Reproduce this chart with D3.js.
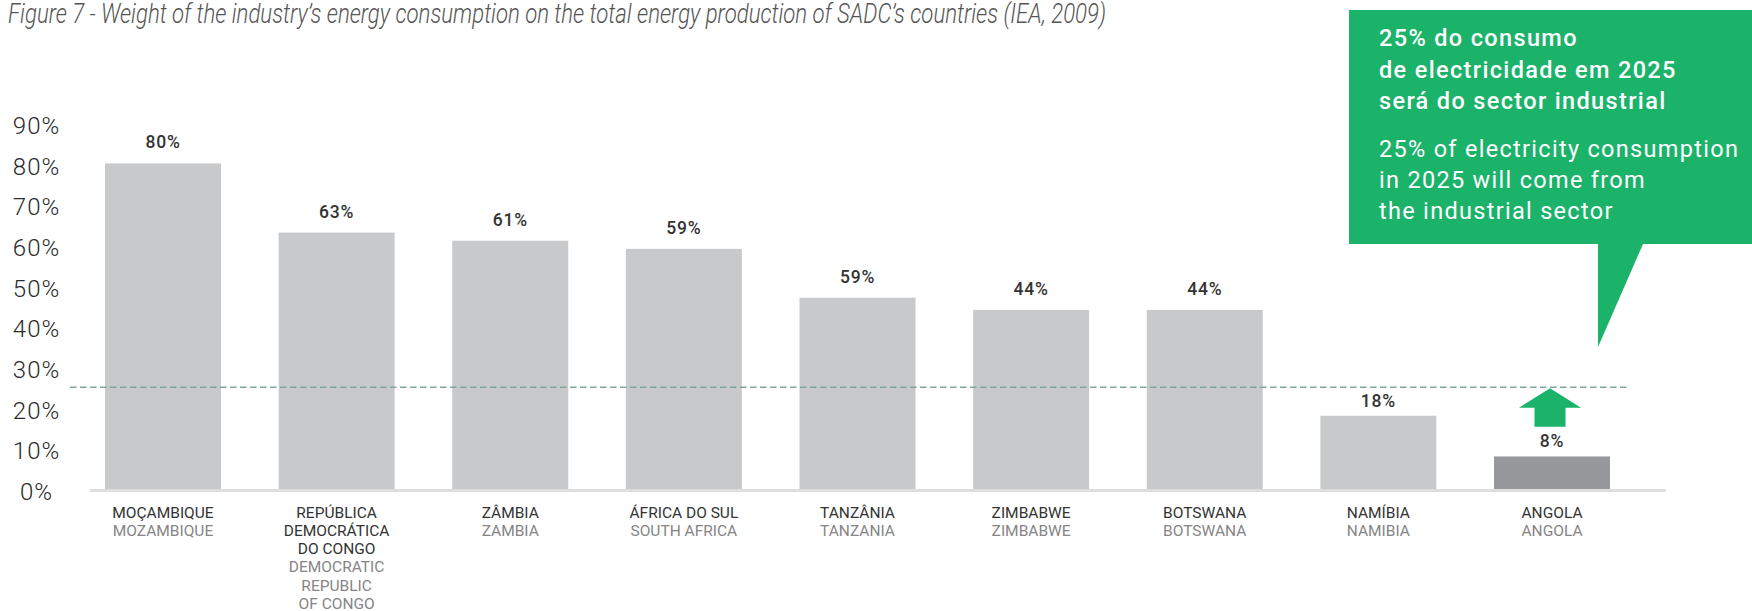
<!DOCTYPE html>
<html>
<head>
<meta charset="utf-8">
<script src="https://cdn.jsdelivr.net/npm/d3@7"></script>
<style>
  html, body { margin: 0; padding: 0; background: #fff; }
  svg { display: block; }
</style>
</head>
<body>
<svg id="chart" width="1752" height="611"></svg>
<script>
// ---- data ----
const categoriesPT = [["MOÇAMBIQUE"], ["REPÚBLICA", "DEMOCRÁTICA", "DO CONGO"], ["ZÂMBIA"], ["ÁFRICA DO SUL"], ["TANZÂNIA"], ["ZIMBABWE"], ["BOTSWANA"], ["NAMÍBIA"], ["ANGOLA"]];
const categoriesEN = [["MOZAMBIQUE"], ["DEMOCRATIC", "REPUBLIC", "OF CONGO"], ["ZAMBIA"], ["SOUTH AFRICA"], ["TANZANIA"], ["ZIMBABWE"], ["BOTSWANA"], ["NAMIBIA"], ["ANGOLA"]];
const values = [80, 63, 61, 59, 47, 44, 44, 18, 8];
const valueLabels = ["80%", "63%", "61%", "59%", "59%", "44%", "44%", "18%", "8%"];
const highlighted = ["ANGOLA"];
const targetValue = 25;
const yTickValues = [0, 10, 20, 30, 40, 50, 60, 70, 80, 90];
const titleText = "Figure 7 - Weight of the industry\u2019s energy consumption on the total energy production of SADC\u2019s countries (IEA, 2009)";
const calloutPT = ["25% do consumo", "de electricidade em 2025", "será do sector industrial"];
const calloutEN = ["25% of electricity consumption", "in 2025 will come from", "the industrial sector"];

// ---- setup ----
const svg = d3.select("#chart");
const FONT = "Roboto, 'Open Sans', sans-serif";
const GREEN = "#1bb26a";
const keys = categoriesPT.map(d => d.join(" "));

const x = d3.scaleBand().domain(keys).range([105, 1610]).paddingInner(0.332).paddingOuter(0);
const y = d3.scaleLinear().domain([0, 90]).range([489, 122.7]);

// title
svg.append("text")
  .attr("x", 8).attr("y", 22.5)
  .attr("textLength", 1098).attr("lengthAdjust", "spacingAndGlyphs")
  .style("font-family", FONT).style("font-style", "italic").style("font-weight", 300)
  .style("font-size", "28px").style("fill", "#555")
  .text(titleText);

// y axis (labels only)
const yAxis = d3.axisLeft(y).tickValues(yTickValues).tickSize(0).tickPadding(0).tickFormat(d => d + "%");
const gy = svg.append("g").attr("transform", "translate(36.5,3)").call(yAxis);
gy.select(".domain").remove();
gy.selectAll("text")
  .attr("text-anchor", "middle")
  .style("font-family", FONT).style("font-weight", 300).style("font-size", "24px")
  .style("letter-spacing", "1px").style("fill", "#2b2b2b");

// bars
svg.append("g").selectAll("rect").data(values).join("rect")
  .attr("x", (d, i) => x(keys[i]))
  .attr("y", d => y(d))
  .attr("width", x.bandwidth())
  .attr("height", d => y(0) - y(d))
  .attr("fill", (d, i) => highlighted.includes(keys[i]) ? "#97989b" : "#c8c9cb");

// baseline
svg.append("line")
  .attr("x1", 90).attr("x2", 1666)
  .attr("y1", y(0) + 1.5).attr("y2", y(0) + 1.5)
  .attr("stroke", "#dedede").attr("stroke-width", 3);

// target dashed line
svg.append("line")
  .attr("x1", 70).attr("x2", 1630)
  .attr("y1", y(targetValue)).attr("y2", y(targetValue))
  .attr("stroke", "#80a699").attr("stroke-width", 1.3)
  .attr("stroke-dasharray", "6.5,3.5");

// value labels
svg.append("g").selectAll("text").data(values).join("text")
  .attr("x", (d, i) => x(keys[i]) + x.bandwidth() / 2)
  .attr("y", d => y(d) - (d < 20 ? 9 : 15))
  .attr("text-anchor", "middle")
  .style("font-family", FONT).style("font-weight", 500).style("font-size", "17.5px")
  .style("letter-spacing", "0.8px").style("fill", "#333")
  .text((d, i) => valueLabels[i]);

// category labels
const catG = svg.append("g");
keys.forEach((k, i) => {
  const cx = x(k) + x.bandwidth() / 2;
  const t = catG.append("text")
    .attr("x", cx).attr("y", 517.5)
    .attr("text-anchor", "middle")
    .style("font-family", FONT).style("font-size", "15.5px");
  let line = 0;
  categoriesPT[i].forEach(s => {
    t.append("tspan").attr("x", cx).attr("y", 517.5 + line * 18.3).style("fill", "#333").text(s);
    line++;
  });
  categoriesEN[i].forEach(s => {
    t.append("tspan").attr("x", cx).attr("y", 517.5 + line * 18.3).style("fill", "#858585").text(s);
    line++;
  });
});

// arrow above highlighted bar, pointing to target line
const ai = keys.indexOf(highlighted[0]);
const ax = x(keys[ai]) + x.bandwidth() / 2 - 2;
const ty = y(targetValue) + 1;
svg.append("path")
  .attr("d", `M${ax},${ty} L${ax + 31},${ty + 19.5} L${ax + 15.5},${ty + 19.5} L${ax + 15.5},${ty + 38.5} L${ax - 15.5},${ty + 38.5} L${ax - 15.5},${ty + 19.5} L${ax - 31},${ty + 19.5} Z`)
  .attr("fill", GREEN);

// callout box
svg.append("path")
  .attr("d", "M1349,10 H1752 V244 H1643 L1598,347 V244 H1349 Z")
  .attr("fill", GREEN);

const cg = svg.append("g").style("font-family", FONT).style("fill", "#fff");
calloutPT.forEach((s, i) => {
  cg.append("text").attr("x", 1379).attr("y", 46 + i * 31.7)
    .style("font-weight", 500).style("font-size", "23.5px").style("letter-spacing", "1.35px")
    .text(s);
});
calloutEN.forEach((s, i) => {
  cg.append("text").attr("x", 1379).attr("y", 157.3 + i * 31)
    .style("font-weight", 400).style("font-size", "23.5px").style("letter-spacing", "1.3px")
    .text(s);
});
</script>
</body>
</html>
